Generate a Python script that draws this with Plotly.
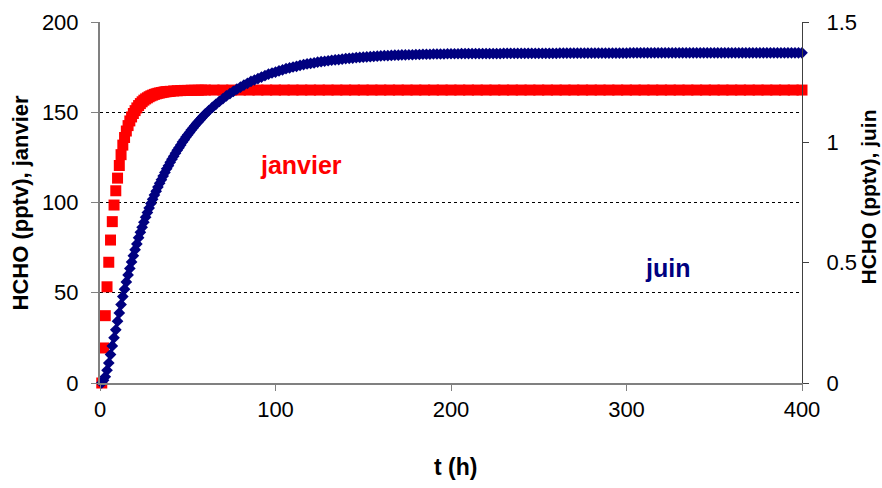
import plotly.graph_objects as go

# -----------------------
# Data
# -----------------------
# janvier : HCHO (pptv), left axis
janvier_t = list(range(1, 41)) + list(range(42, 61, 2)) + list(range(65, 401, 5))
janvier_hcho = [
    0, 19.4, 37.3, 53.3, 66.9, 79.2, 89.4, 98.6, 106.5, 113.5,
    120.5, 126.5, 131.8, 136.0, 139.6, 142.6, 145.2, 147.4, 149.3, 150.9,
    152.4, 153.7, 154.8, 155.8, 156.7, 157.4, 158.0, 158.6, 159.1, 159.5,
    159.9, 160.2, 160.5, 160.7, 160.9, 161.1, 161.3, 161.4, 161.5, 161.6,
    161.8, 161.9, 162.0, 162.1, 162.1, 162.2, 162.2, 162.2, 162.3, 162.3,
    162.3, 162.3, 162.3, 162.3, 162.3, 162.3, 162.3, 162.3, 162.3, 162.3,
    162.3, 162.3, 162.3, 162.3, 162.3, 162.3, 162.3, 162.3, 162.3, 162.3,
    162.3, 162.3, 162.3, 162.3, 162.3, 162.3, 162.3, 162.3, 162.3, 162.3,
    162.3, 162.3, 162.3, 162.3, 162.3, 162.3, 162.3, 162.3, 162.3, 162.3,
    162.3, 162.3, 162.3, 162.3, 162.3, 162.3, 162.3, 162.3, 162.3, 162.3,
    162.3, 162.3, 162.3, 162.3, 162.3, 162.3, 162.3, 162.3, 162.3, 162.3,
    162.3, 162.3, 162.3, 162.3, 162.3, 162.3, 162.3, 162.3,
]

# juin : HCHO (pptv), right axis
juin_t = list(range(1, 61)) + list(range(62, 401, 2))
juin_hcho = [
    # t = 1 .. 60 (hourly)
    0, 0.011, 0.026, 0.053, 0.083, 0.118, 0.154, 0.188, 0.221, 0.257,
    0.291, 0.326, 0.359, 0.390, 0.420, 0.449, 0.476, 0.503, 0.529, 0.554,
    0.578, 0.604, 0.626, 0.647, 0.668, 0.689, 0.708, 0.727, 0.746, 0.763,
    0.781, 0.797, 0.814, 0.830, 0.845, 0.860, 0.875, 0.890, 0.903, 0.917,
    0.930, 0.942, 0.955, 0.967, 0.978, 0.989, 1.001, 1.011, 1.022, 1.031,
    1.041, 1.051, 1.060, 1.069, 1.078, 1.086, 1.094, 1.102, 1.110, 1.118,
    # t = 62 .. 400 (every 2 h)
    1.132, 1.145, 1.158, 1.170, 1.181, 1.193, 1.202, 1.212, 1.221, 1.229,
    1.238, 1.245, 1.253, 1.259, 1.265, 1.271, 1.277, 1.283, 1.288, 1.292,
    1.297, 1.301, 1.306, 1.309, 1.313, 1.316, 1.320, 1.323, 1.326, 1.328,
    1.330, 1.333, 1.335, 1.337, 1.339, 1.341, 1.343, 1.344, 1.346, 1.348,
    1.349, 1.350, 1.352, 1.353, 1.354, 1.355, 1.356, 1.357, 1.358, 1.359,
    1.360, 1.360, 1.361, 1.362, 1.362, 1.363, 1.363, 1.364, 1.364, 1.365,
    1.365, 1.366, 1.366, 1.366, 1.367, 1.367, 1.367, 1.367, 1.368, 1.368,
    1.368, 1.368, 1.369, 1.369, 1.369, 1.369, 1.369, 1.369, 1.369, 1.369,
    1.369, 1.369, 1.369, 1.369, 1.370, 1.370, 1.370, 1.370, 1.370, 1.370,
    1.370, 1.370, 1.370, 1.370, 1.370, 1.370, 1.370, 1.370, 1.370, 1.370,
    1.371, 1.371, 1.371, 1.371, 1.371, 1.371, 1.371, 1.371, 1.371, 1.371,
    1.371, 1.371, 1.371, 1.371, 1.371, 1.371, 1.371, 1.371, 1.371, 1.371,
    1.372, 1.372, 1.372, 1.372, 1.372, 1.372, 1.372, 1.372, 1.372, 1.372,
    1.372, 1.372, 1.372, 1.372, 1.372, 1.372, 1.372, 1.372, 1.372, 1.372,
    1.372, 1.372, 1.372, 1.372, 1.372, 1.372, 1.372, 1.372, 1.372, 1.372,
    1.372, 1.372, 1.372, 1.372, 1.372, 1.372, 1.372, 1.372, 1.372, 1.372,
    1.372, 1.372, 1.372, 1.372, 1.372, 1.372, 1.372, 1.372, 1.372, 1.372,
]

assert len(janvier_t) == len(janvier_hcho)
assert len(juin_t) == len(juin_hcho)

x_ticks = [0, 100, 200, 300, 400]
left_ticks = [0, 50, 100, 150, 200]
right_ticks = [0, 0.5, 1, 1.5]

FONT = "Liberation Sans, Arial, sans-serif"
RED = "#FF0000"
NAVY = "#000080"

# -----------------------
# Figure
# -----------------------
fig = go.Figure()

fig.add_trace(go.Scatter(
    x=janvier_t, y=janvier_hcho, mode="markers", name="janvier",
    marker=dict(symbol="square", size=11, color=RED, line=dict(width=0)),
    cliponaxis=False, yaxis="y",
))
fig.add_trace(go.Scatter(
    x=juin_t, y=juin_hcho, mode="markers", name="juin",
    marker=dict(symbol="diamond", size=9, color=NAVY, line=dict(width=0)),
    cliponaxis=False, yaxis="y2",
))

fig.update_layout(
    width=882, height=488,
    margin=dict(l=100, r=80, t=22, b=105),
    paper_bgcolor="white", plot_bgcolor="white",
    showlegend=False,
    font=dict(family=FONT, size=22, color="black"),
    xaxis=dict(
        range=[0, 400], tickvals=x_ticks, showgrid=False, zeroline=False,
        showline=True, linecolor="#808080", linewidth=2, automargin=False,
        ticks="outside", ticklen=6, tickcolor="#808080", tickwidth=1,
        ticklabelstandoff=0,
    ),
    yaxis=dict(
        range=[0, 200], tickvals=left_ticks, zeroline=False, automargin=False,
        showgrid=True, gridcolor="black", gridwidth=1, griddash="3px,3px",
        showline=True, linecolor="#808080", linewidth=2,
        ticks="outside", ticklen=7, tickcolor="#808080", tickwidth=1,
        ticklabelstandoff=8,
    ),
    yaxis2=dict(
        range=[0, 1.5], tickvals=right_ticks, overlaying="y", side="right",
        anchor="x", showgrid=False, zeroline=False, automargin=False,
        showline=True, linecolor="#404040", linewidth=1,
        ticks="outside", ticklen=6, tickcolor="#404040", tickwidth=1,
        ticklabelstandoff=13,
    ),
    yaxis3=dict(
        range=[0, 1.5], tickvals=right_ticks, overlaying="y", side="right",
        anchor="x", showgrid=False, zeroline=False, showticklabels=False,
        automargin=False,
        ticks="inside", ticklen=6, tickcolor="#404040", tickwidth=1,
    ),
    annotations=[
        dict(text="<b>HCHO (pptv), janvier</b>", xref="paper", yref="paper",
             x=0, y=0.5, xshift=-80, xanchor="center", yanchor="middle",
             textangle=-90, showarrow=False, font=dict(size=22)),
        dict(text="<b>HCHO (pptv), juin</b>", xref="paper", yref="paper",
             x=1, y=0.5, yshift=5, xshift=66, xanchor="center", yanchor="middle",
             textangle=-90, showarrow=False, font=dict(size=21)),
        dict(text="<b>t (h)</b>", xref="paper", yref="paper",
             x=0.5, y=0, xshift=4, yshift=-84, xanchor="center",
             yanchor="middle", showarrow=False, font=dict(size=23)),
        dict(text="<b>janvier</b>", xref="x", yref="y", x=114.5, y=121,
             xanchor="center", yanchor="middle",
             showarrow=False, font=dict(size=25, color=RED)),
        dict(text="<b>juin</b>", xref="x", yref="y", x=323.5, y=63.5,
             xanchor="center", yanchor="middle",
             showarrow=False, font=dict(size=25, color=NAVY)),
    ],
)

# the page's default body margin would shift the chart by 8 px
fig.write_html(
    "out.html",
    config={"displayModeBar": False},
    post_script="document.body.style.margin = '0px';",
)
